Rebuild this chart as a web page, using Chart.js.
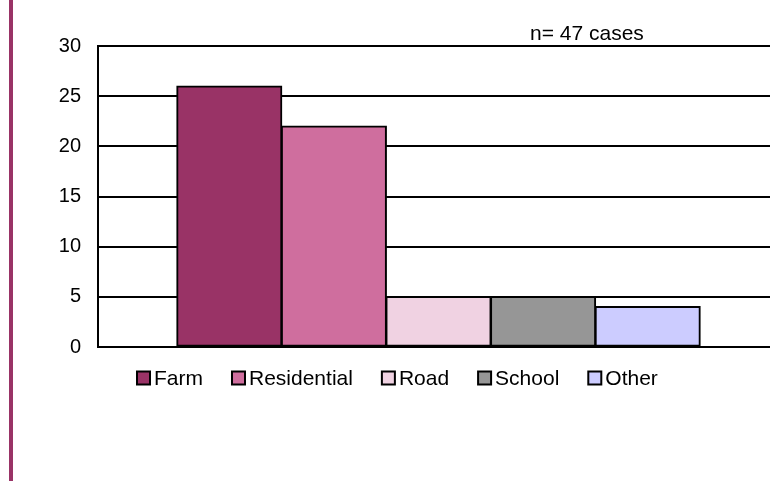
<!DOCTYPE html>
<html>
<head>
<meta charset="utf-8">
<script src="https://cdn.jsdelivr.net/npm/chart.js@4/dist/chart.umd.min.js"></script>
<style>
  html, body { margin: 0; padding: 0; background: #ffffff; overflow: hidden; }
  #wrap { width: 770px; height: 481px; position: relative; overflow: hidden; }
</style>
</head>
<body>
<div id="wrap"><canvas id="c" width="779" height="481"></canvas></div>
<script>
// Incident location categories and case counts
const categories = ["Farm", "Residential", "Road", "School", "Other"];
const cases = [26, 22, 5, 5, 4];
const barColors = ["#993366", "#CF6E9E", "#F0D2E2", "#969696", "#CCCCFF"];
const yTicks = [0, 5, 10, 15, 20, 25, 30];
const noteText = "n= 47 cases";

const FONT = '"Liberation Sans", Arial, Helvetica, sans-serif';
Chart.defaults.font.family = FONT;
Chart.defaults.font.size = 21;
Chart.defaults.color = "#000000";

const datasets = categories.map((name, i) => ({
  label: name,
  data: [cases[i]],
  backgroundColor: barColors[i],
  borderColor: "#000000",
  borderWidth: 2,
  borderSkipped: false,
  inflateAmount: 0.75,
  categoryPercentage: 0.768,
  barPercentage: 1.0
}));

// Page frame stripe, note text and the square-swatch legend row
const decorations = {
  id: "decorations",
  beforeDraw(chart) {
    const ctx = chart.ctx;
    ctx.save();
    ctx.fillStyle = "#ffffff";
    ctx.fillRect(0, 0, chart.width, chart.height);
    ctx.fillStyle = "#993366";
    ctx.fillRect(9, 0, 4, chart.height);
    ctx.restore();
  },
  afterDraw(chart) {
    const ctx = chart.ctx;
    ctx.save();
    ctx.font = "21px " + FONT;
    ctx.fillStyle = "#000000";
    ctx.textBaseline = "alphabetic";
    ctx.textAlign = "left";
    ctx.fillText(noteText, 530, 40);

    // legend
    const box = 13, textGap = 4, itemGap = 29;
    let x = 137;
    const cy = 378;
    chart.data.datasets.forEach(ds => {
      ctx.fillStyle = ds.backgroundColor;
      ctx.fillRect(x, cy - box / 2, box, box);
      ctx.lineWidth = 2;
      ctx.strokeStyle = "#000000";
      ctx.strokeRect(x, cy - box / 2, box, box);
      ctx.fillStyle = "#000000";
      ctx.textBaseline = "middle";
      const tx = x + box + textGap;
      ctx.fillText(ds.label, tx, cy + 1);
      x = tx + ctx.measureText(ds.label).width + itemGap;
    });
    ctx.restore();
  }
};

new Chart(document.getElementById("c"), {
  type: "bar",
  data: { labels: [""], datasets },
  options: {
    responsive: false,
    animation: false,
    devicePixelRatio: 1,
    layout: { padding: { top: 46, bottom: 134, left: 0, right: 0 } },
    plugins: {
      legend: { display: false },
      tooltip: { enabled: false }
    },
    scales: {
      x: {
        grid: { display: false, drawTicks: false },
        ticks: { display: false },
        border: { display: true, color: "#000000", width: 2 },
        afterFit(scale) { scale.height = 0; }
      },
      y: {
        min: yTicks[0],
        max: yTicks[yTicks.length - 1],
        afterBuildTicks(scale) { scale.ticks = yTicks.map(v => ({ value: v })); },
        ticks: { padding: 17, font: { size: 20 }, color: "#000000" },
        grid: { color: "#000000", lineWidth: 2, drawTicks: false },
        border: { display: true, color: "#000000", width: 2 },
        afterFit(scale) { scale.width = 98; }
      }
    }
  },
  plugins: [decorations]
});
</script>
</body>
</html>
